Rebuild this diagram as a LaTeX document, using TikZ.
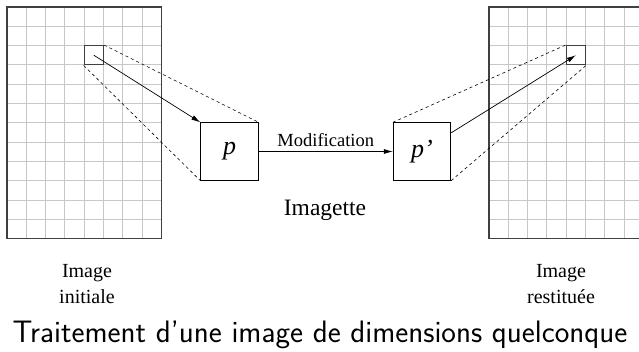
\documentclass[tikz,border=0pt]{standalone}
\usepackage{fontspec}
\setmainfont{Liberation Serif}
\usetikzlibrary{arrows.meta,calc}
\begin{document}
\begin{tikzpicture}[x=1pt,y=-1pt,
  gridline/.style={draw=black!22,line width=0.9pt},
  frameline/.style={draw=black!75,line width=1.1pt},
  cellbox/.style={draw=black!75,line width=1.1pt,minimum size=19.3pt,inner sep=0pt},
  patch/.style={draw,line width=0.8pt,minimum size=57.5pt,inner sep=0pt,font=\fontsize{26}{30}\selectfont\itshape},
  proj/.style={dashed,dash pattern=on 3pt off 3pt,line width=0.6pt},
  link/.style={line width=0.7pt,-{Latex[length=9pt,width=5pt]}},
  lbl/.style={align=center,font=\fontsize{20}{26.5}\selectfont}
]
\useasboundingbox (0,0) rectangle (639,352);

% source image: 8 x 12 grid
\foreach \i in {1,...,7} \draw[gridline] (7+\i*19.3,7) -- (7+\i*19.3,238.6);
\foreach \j in {1,...,11} \draw[gridline] (7,7+\j*19.3) -- (161.4,7+\j*19.3);
\draw[frameline] (7,7) rectangle (161.4,238.6);

% restored image: 8 x 12 grid (right part cut by the page)
\foreach \i in {1,...,7} \draw[gridline] (489+\i*19.3,7) -- (489+\i*19.3,238.6);
\foreach \j in {1,...,11} \draw[gridline] (489,7+\j*19.3) -- (643.4,7+\j*19.3);
\draw[frameline] (489,7) rectangle (643.4,238.6);

% selected cells
\node[cellbox] (s1) at (93.85,55.25) {};
\node[cellbox] (s2) at (575.85,55.25) {};

% extracted patches
\node[patch] (p) at (229.5,151.5) {p};
\node[patch] (pp) at (422,151.5) {p'};

% projection lines
\draw[proj] (s1.north east) -- (p.north east);
\draw[proj] (s1.south west) -- (p.south west);
\draw[proj] (pp.north west) -- (s2.north west);
\draw[proj] (pp.south east) -- (s2.south east);

% extraction / modification / reinsertion
\draw[link] (s1.center) -- (p.north west);
\draw[link] (p.east) -- node[above=1pt,font=\fontsize{18.5}{21}\selectfont] (mod) {Modification} (pp.east -| pp.west);
\coordinate (ppout) at ($(pp.north east)!0.18!(pp.south east)$);
\draw[link] (ppout) -- (s2.center);

% labels
\node[font=\fontsize{23.5}{28}\selectfont] (imt) at (325,210) {Imagette};
\node[lbl] (lin) at (87,284) {Image\\initiale};
\node[lbl] (lout) at (561,284) {Image\\restituée};
\node[font=\sffamily\fontsize{31}{36}\selectfont] (cap) at (320,335) {Traitement d'une image de dimensions quelconque};
\end{tikzpicture}
\end{document}
